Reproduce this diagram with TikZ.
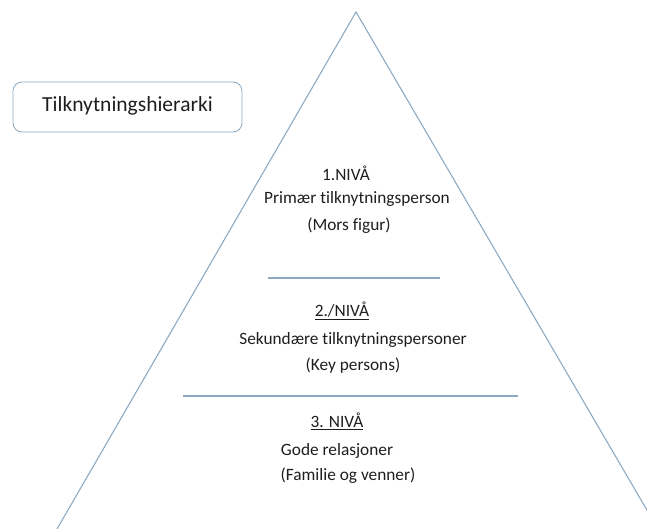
\documentclass[tikz,border=0pt]{standalone}
\usepackage{fontspec}
\setmainfont[Ligatures={NoCommon}]{Carlito}
\usetikzlibrary{positioning}
\definecolor{linje}{RGB}{140,170,195}
\definecolor{tekst}{RGB}{30,30,30}

\begin{document}
\begin{tikzpicture}[x=1pt, y=-1pt,
  lvl/.style={text=tekst, font=\fontsize{17.3}{20}\selectfont, inner sep=0pt},
  lag/.style={linje, line width=1.1pt}]
\useasboundingbox (0,0) rectangle (647,529);
\clip (0,0) rectangle (647,529);
%title box
\draw[linje, line width=0.8pt, rounded corners=9pt] (13,82) rectangle (242,132);
\node[text=tekst, font=\fontsize{21.5}{24}\selectfont] (title) at (127.5,106) {Tilknytningshierarki};
%triangle
\coordinate (top) at (356,12);
\coordinate (vleft) at (57,529);
\coordinate (vright) at (658,529);
\draw[lag] (vleft) -- (top) -- (vright);
%dividers
\coordinate (d1a) at (268,278);
\coordinate (d1b) at (440,278);
\coordinate (d2a) at (183,396);
\coordinate (d2b) at (518,396);
\draw[lag] (d1a) -- (d1b);
\draw[lag] (d2a) -- (d2b);
%level 1
\node[lvl] (n1) at (346,173) {1.NIVÅ};
\node[lvl] (p1) at (357,199) {Primær tilknytningsperson};
\node[lvl] (m1) at (349,226) {(Mors figur)};
%level 2
\node[lvl] (n2) at (342,311) {\underline{2./NIVÅ}};
\node[lvl] (p2) at (353,340) {Sekundære tilknytningspersoner};
\node[lvl] (m2) at (353,366) {(Key persons)};
%level 3
\node[lvl] (n3) at (337,421) {\underline{3. NIVÅ}};
\node[lvl] (p3) at (337,451) {Gode relasjoner};
\node[lvl] (m3) at (348,476) {(Familie og venner)};
\end{tikzpicture}
\end{document}
